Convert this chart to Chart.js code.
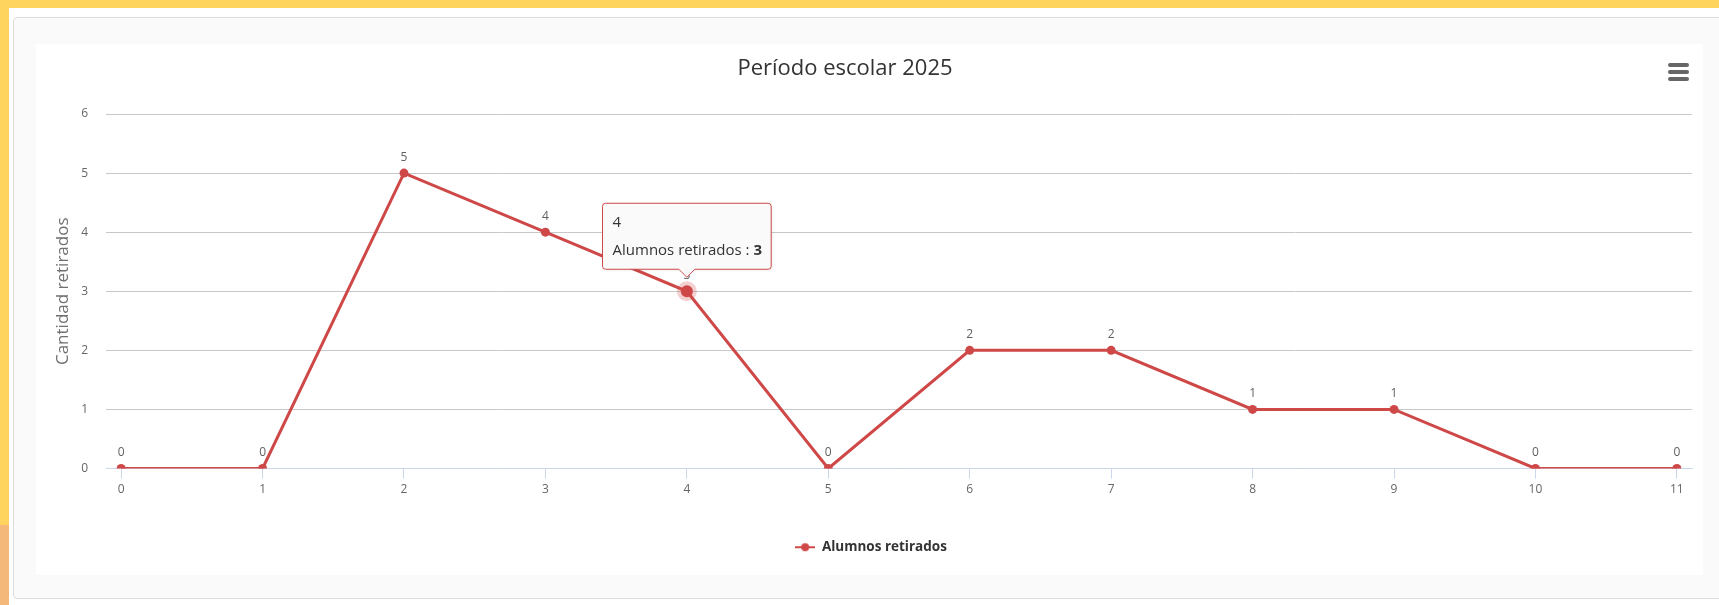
<!DOCTYPE html>
<html>
<head>
<meta charset="utf-8">
<script src="https://cdn.jsdelivr.net/npm/chart.js@4.4.1/dist/chart.umd.min.js"></script>
<style>
  html, body { margin: 0; padding: 0; }
  body { width: 1719px; height: 605px; background: #ffd45e; position: relative; overflow: hidden; font-family: 'Open Sans', sans-serif; }
  .orange { position: absolute; left: 0; top: 525px; width: 9px; height: 80px; background: #f4b97a; }
  .inner { position: absolute; left: 9px; top: 8px; right: 0; bottom: 0; background: #fff; }
  .panel { position: absolute; left: 13px; top: 17px; width: 1730px; height: 582px; background: #fafafa;
           border: 1px solid #dcdcdc; border-radius: 4px; box-sizing: border-box; }
  .box { position: absolute; left: 36px; top: 44px; width: 1667px; height: 531px; background: #fff; }
  .menu { position: absolute; left: 1668px; top: 63px; width: 21px; }
  .menu span { display: block; height: 3.5px; background: #666; border-radius: 2px; margin-bottom: 3.5px; }
</style>
</head>
<body>
<div class="orange"></div>
<div class="inner"></div>
<div class="panel"></div>
<div class="box"><canvas id="chart"></canvas></div>
<div class="menu"><span></span><span></span><span></span></div>
<script>
/* ── datos ── */
const TITULO   = 'Período escolar 2025';
const SERIE    = 'Alumnos retirados';
const EJE_Y    = 'Cantidad retirados';
const MESES    = [0, 1, 2, 3, 4, 5, 6, 7, 8, 9, 10, 11];
const RETIRADOS = [0, 0, 5, 4, 3, 0, 2, 2, 1, 1, 0, 0];
const PUNTO_ACTIVO = 4;

const ROJO = '#cf4848';
const FUENTE = "'Open Sans', sans-serif";
const TT = { font: 15, pad: 10, margen: 10 };

Chart.defaults.font.family = FUENTE;

/* símbolo de leyenda: línea con punto */
const simbolo = document.createElement('canvas');
simbolo.width = 20; simbolo.height = 10;
(() => {
  const g = simbolo.getContext('2d');
  g.strokeStyle = ROJO; g.lineWidth = 2;
  g.beginPath(); g.moveTo(0, 5); g.lineTo(20, 5); g.stroke();
  g.fillStyle = ROJO;
  g.beginPath(); g.arc(10, 5, 4, 0, Math.PI * 2); g.fill();
})();

const extras = {
  id: 'extras',
  afterLayout(chart) {
    // el título queda algo a la izquierda del centro y la leyenda algo a la derecha
    if (chart.titleBlock) { chart.titleBlock.left -= 38; }
    if (chart.legend) { chart.legend.left += 7; chart.legend.right += 7; }
  },
  // etiquetas de valor sobre cada punto
  afterDatasetsDraw(chart) {
    const ctx = chart.ctx;
    const meta = chart.getDatasetMeta(0);
    ctx.save();
    ctx.font = '12px ' + FUENTE;
    ctx.fillStyle = '#606060';
    ctx.textAlign = 'center';
    ctx.textBaseline = 'middle';
    meta.data.forEach((p, i) => ctx.fillText(String(RETIRADOS[i]), p.x, p.y - 16));
    ctx.restore();
  },
  // sombra suave del tooltip
  beforeTooltipDraw(chart) {
    const t = chart.tooltip;
    const ctx = chart.ctx;
    ctx.save();
    ctx.shadowColor = 'rgba(0,0,0,0.18)';
    ctx.shadowBlur = 4;
    ctx.shadowOffsetX = 1;
    ctx.shadowOffsetY = 1;
    ctx.fillStyle = 'rgba(250,250,250,1)';
    ctx.fillRect(t.x + 1, t.y + 1, t.width - 2, t.height - 2);
    ctx.restore();
  },
  // valor en negrita dentro del tooltip
  afterTooltipDraw(chart) {
    const t = chart.tooltip;
    if (!t.dataPoints || !t.dataPoints.length) return;
    const ctx = chart.ctx;
    const lh = TT.font * 1.2;
    ctx.save();
    ctx.font = TT.font + 'px ' + FUENTE;
    const w = ctx.measureText(SERIE + ' : ').width;
    ctx.font = 'bold ' + TT.font + 'px ' + FUENTE;
    ctx.fillStyle = '#333';
    ctx.textAlign = 'left';
    ctx.textBaseline = 'middle';
    const y = t.y + TT.pad + lh + TT.margen + lh / 2;
    ctx.fillText(String(t.dataPoints[0].parsed.y), t.x + TT.pad + w, y);
    ctx.restore();
  }
};

const chart = new Chart(document.getElementById('chart'), {
  type: 'line',
  data: {
    datasets: [{
      label: SERIE,
      data: MESES.map((m, i) => ({ x: m, y: RETIRADOS[i] })),
      borderColor: ROJO,
      backgroundColor: ROJO,
      borderWidth: 3,
      pointRadius: 4.5,
      pointBorderWidth: 0,
      pointHoverRadius: 6,
      pointHoverBorderWidth: 8,
      pointHoverBackgroundColor: ROJO,
      pointHoverBorderColor: 'rgba(207,72,72,0.25)',
      tension: 0,
    }]
  },
  options: {
    responsive: true,
    maintainAspectRatio: false,
    animation: false,
    events: [],
    layout: { padding: { left: 0, right: 11, top: 0, bottom: 11 } },
    plugins: {
      title: {
        display: true, text: TITULO, color: '#333',
        font: { size: 22, weight: 'normal' },
        padding: { top: 12, bottom: 31.6 }
      },
      legend: {
        position: 'bottom',
        labels: {
          color: '#333', font: { size: 13.5, weight: 'bold' },
          usePointStyle: true, pointStyle: simbolo, pointStyleWidth: 20, padding: 10
        }
      },
      tooltip: {
        yAlign: 'bottom', xAlign: 'center',
        backgroundColor: 'rgba(250,250,250,0.95)',
        borderColor: ROJO, borderWidth: 1, cornerRadius: 3,
        titleColor: '#333', bodyColor: '#333',
        titleFont: { size: TT.font, weight: 'normal' }, bodyFont: { size: TT.font },
        titleMarginBottom: TT.margen, padding: TT.pad,
        caretSize: 8, caretPadding: 14, displayColors: false,
        callbacks: {
          title: items => String(items[0].parsed.x),
          // el número se pinta aparte en negrita; los espacios le reservan sitio
          label: c => SERIE + ' :   '
        }
      }
    },
    scales: {
      x: {
        type: 'linear', min: -0.107, max: 11.107,
        afterBuildTicks: s => { s.ticks = MESES.map(v => ({ value: v })); },
        afterFit: s => { s.height = 62; },
        ticks: { stepSize: 1, color: '#666', font: { size: 12 }, padding: 4, maxRotation: 0 },
        grid: { drawOnChartArea: false, color: '#ccd6eb', tickLength: 10 },
        border: { color: '#ccd6eb' }
      },
      y: {
        min: 0, max: 6,
        afterFit: s => { s.width = 70; },
        ticks: { stepSize: 1, color: '#666', font: { size: 12 }, padding: 18 },
        grid: { color: '#c8c8c8', drawTicks: false },
        border: { display: false },
        title: { display: true, text: EJE_Y, color: '#707070', font: { size: 17 }, padding: { top: 17, bottom: 0 } }
      }
    }
  },
  plugins: [extras]
});

/* tooltip fijo sobre el punto activo */
const pt = chart.getDatasetMeta(0).data[PUNTO_ACTIVO];
const activos = [{ datasetIndex: 0, index: PUNTO_ACTIVO }];
chart.setActiveElements(activos);
chart.tooltip.setActiveElements(activos, { x: pt.x, y: pt.y });
chart.update();
</script>
</body>
</html>
